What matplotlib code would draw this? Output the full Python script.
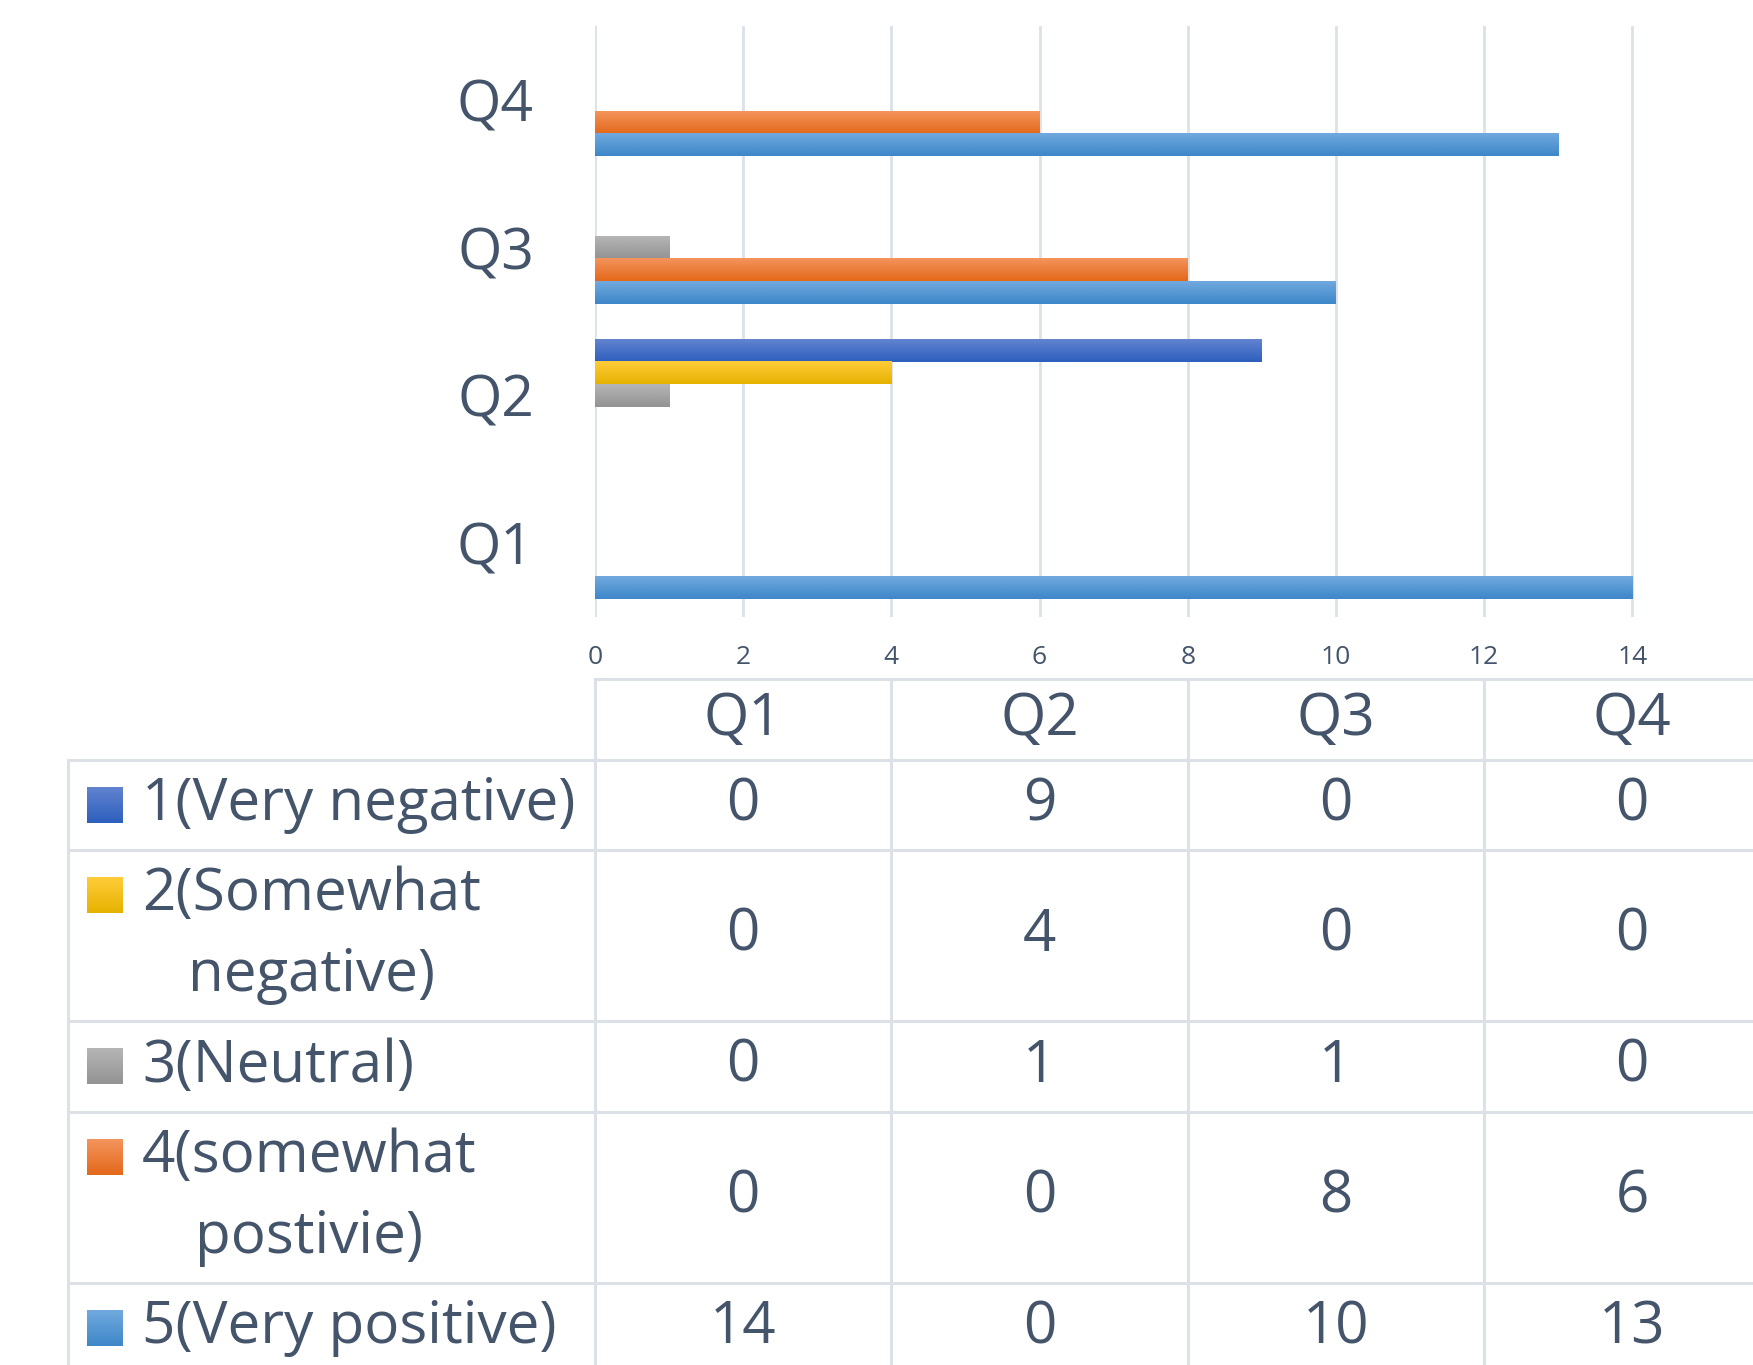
import matplotlib.pyplot as plt
import numpy as np
from matplotlib.colors import LinearSegmentedColormap

quarters = ["Q1", "Q2", "Q3", "Q4"]
series_names = ["1(Very negative)", "2(Somewhat\nnegative)", "3(Neutral)",
                "4(somewhat\npostivie)", "5(Very positive)"]
very_negative = [0, 9, 0, 0]
somewhat_negative = [0, 4, 0, 0]
neutral = [0, 1, 1, 0]
somewhat_positive = [0, 0, 8, 6]
very_positive = [14, 0, 10, 13]
series_values = [very_negative, somewhat_negative, neutral, somewhat_positive, very_positive]
x_ticks = [0, 2, 4, 6, 8, 10, 12, 14]

# gradient colours (top, bottom) per series
grad_colors = [("#6283D0", "#2D5FBD"), ("#FFCC3A", "#E6B200"), ("#B5B5B5", "#939393"),
               ("#F4945C", "#E3681A"), ("#70A9DE", "#3E87C8")]
text_color = "#44546A"
grid_color = "#DCE1E8"

plt.rcParams['font.family'] = ['Open Sans', 'DejaVu Sans']

W, H = 1753, 1365
fig = plt.figure(figsize=(W / 100, H / 100), dpi=100)

left_px, top_px, bottom_px = 595, 26, 617
xmax = 15.63
ax = fig.add_axes([left_px / W, 1 - bottom_px / H, 1 - left_px / W, (bottom_px - top_px) / H])

bar_h = 0.1525
y = np.arange(len(quarters))
for i, vals in enumerate(series_values):
    bars = ax.barh(y + (2 - i) * bar_h, vals, height=bar_h, color=grad_colors[i][1], zorder=2)
    cmap = LinearSegmentedColormap.from_list("g%d" % i, [grad_colors[i][1], grad_colors[i][0]])
    for p in bars:
        if p.get_width() <= 0:
            continue
        x0, y0 = p.get_x(), p.get_y()
        ax.imshow(np.linspace(0, 1, 50).reshape(-1, 1), cmap=cmap, origin="lower",
                  extent=[x0, x0 + p.get_width(), y0, y0 + p.get_height()],
                  aspect="auto", zorder=3)

ax.set_xlim(0, xmax)
ax.set_ylim(-0.5, len(quarters) - 0.5)
ax.set_xticks(x_ticks)
ax.set_yticks(y)
ax.set_yticklabels(quarters)
ax.grid(axis="x", color=grid_color, linewidth=2)
ax.set_axisbelow(True)
for s in ax.spines.values():
    s.set_visible(False)
ax.tick_params(axis="x", length=0, pad=20, labelsize=19, labelcolor=text_color)
ax.tick_params(axis="y", length=0, pad=44, labelsize=41, labelcolor=text_color)

# data table below the chart, sharing the x scale of the chart
tab_top = 679
tab = fig.add_axes([0, 0, 1, 1 - tab_top / H])
frac = left_px / W
tab.axis("off")

px = xmax / (W - left_px)  # data units per pixel
leg_left = (68 - left_px) * px
row_h = [81, 90, 171, 91, 171, 90]
edges = np.concatenate([[0], np.cumsum(row_h)])
col_edges = [0, 4, 8, 12, 16]

lw = 2.2
tab.plot([0, xmax], [edges[0], edges[0]], color=grid_color, lw=lw, clip_on=False)
for e in edges[1:-1]:
    tab.plot([leg_left, xmax], [e, e], color=grid_color, lw=lw)
for c in col_edges[:-1]:
    tab.plot([c, c], [0, edges[-1]], color=grid_color, lw=lw)
tab.plot([leg_left, leg_left], [edges[1], edges[-1]], color=grid_color, lw=lw)

for j, q in enumerate(quarters):
    cx = (col_edges[j] + col_edges[j + 1]) / 2
    tab.text(cx, (edges[0] + edges[1]) / 2, q, ha="center", va="center",
             fontsize=42, color=text_color)

for i, (name, vals) in enumerate(zip(series_names, series_values)):
    yc = (edges[i + 1] + edges[i + 2]) / 2
    nlines = name.count("\n") + 1
    sy = yc - (nlines - 1) * 40
    cmap = LinearSegmentedColormap.from_list("s%d" % i, [grad_colors[i][0], grad_colors[i][1]])
    sx0 = (87 - left_px) * px
    tab.imshow(np.linspace(0, 1, 50).reshape(-1, 1), cmap=cmap, origin="upper",
               extent=[sx0, sx0 + 36 * px, sy + 18, sy - 18], aspect="auto")
    tab.text((142 - left_px) * px, yc, name, ha="left", va="center", multialignment="center",
             fontsize=42, color=text_color, linespacing=1.5)
    for j, v in enumerate(vals):
        cx = (col_edges[j] + col_edges[j + 1]) / 2
        tab.text(cx, yc, str(v), ha="center", va="center", fontsize=42, color=text_color)

tab.set_xlim(-frac / (1 - frac) * xmax, xmax)
tab.set_ylim(H - tab_top, 0)

fig.savefig("out.png", dpi=100)
